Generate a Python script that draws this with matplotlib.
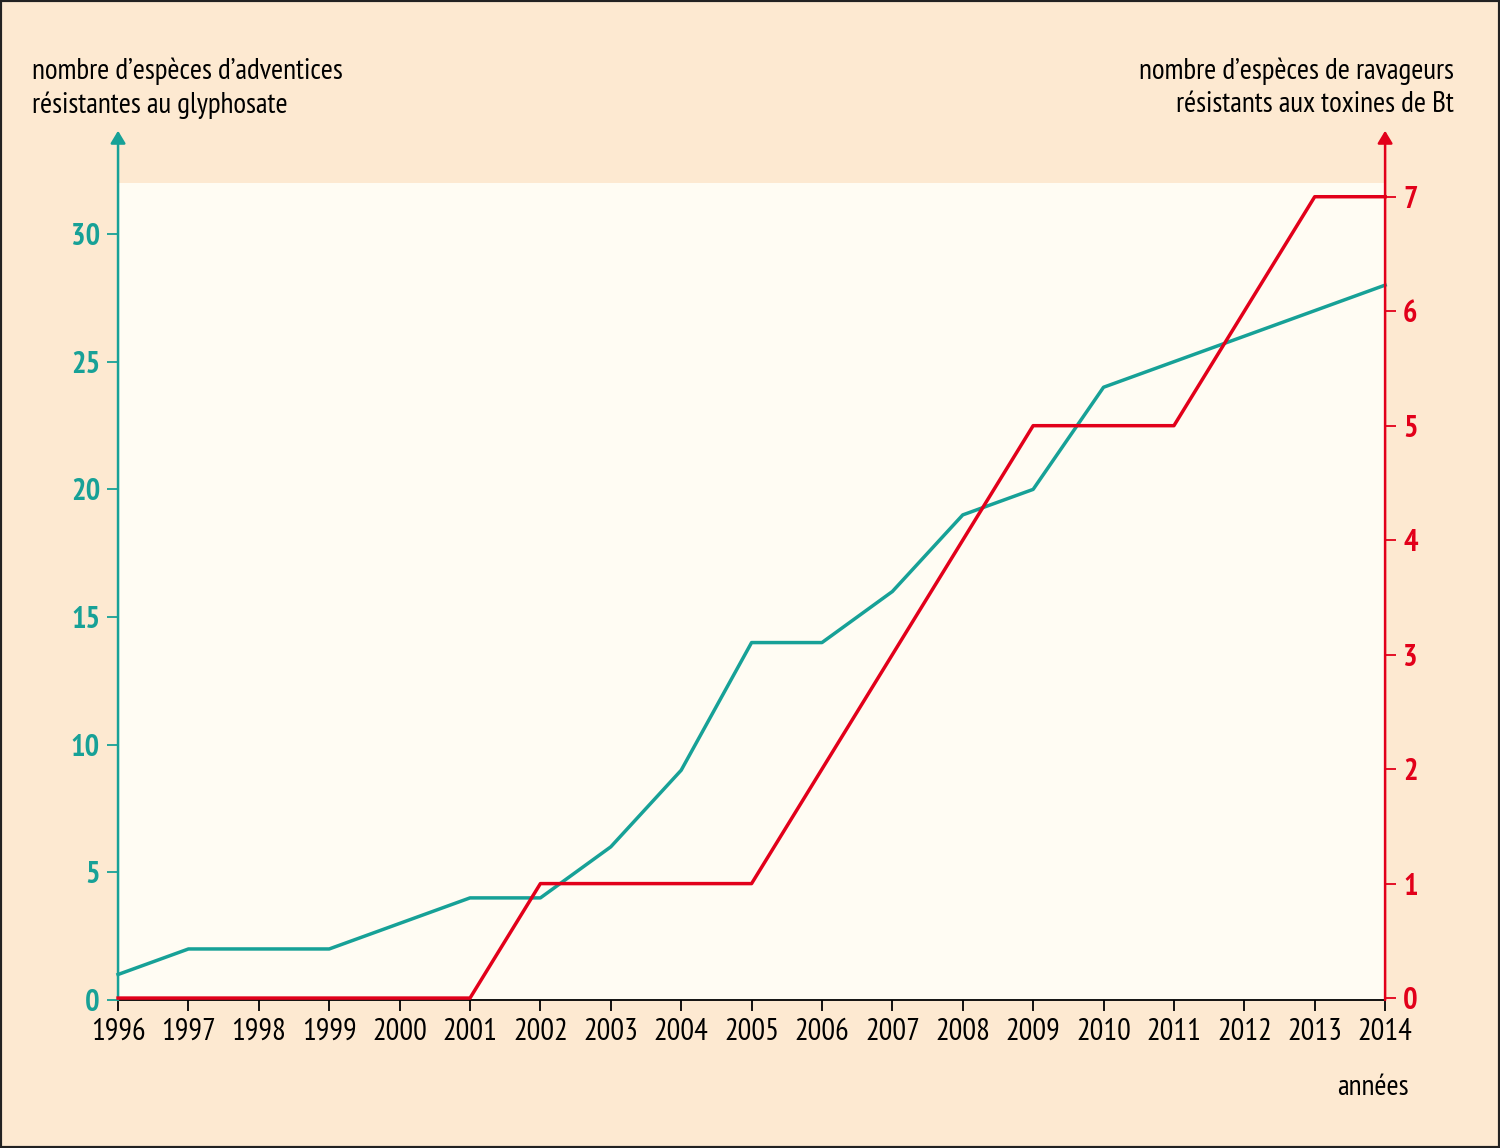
import matplotlib
matplotlib.use('Agg')
from matplotlib import pyplot as plt
from matplotlib.patches import Rectangle

plt.rcParams['font.family'] = ['PT Sans Narrow', 'DejaVu Sans']

# données
annees = list(range(1996, 2015))
adventices = [1, 2, 2, 2, 3, 4, 4, 6, 9, 14, 14, 16, 19, 20, 24, 25, 26, 27, 28]
ravageurs = [0, 0, 0, 0, 0, 0, 1, 1, 1, 1, 2, 3, 4, 5, 5, 5, 6, 7, 7]

teal = '#17a197'
rouge = '#e2001a'
fond = '#fde9d1'
fond_int = '#fffcf3'

fig = plt.figure(figsize=(15, 11.48), dpi=100, facecolor=fond)
ax = fig.add_axes([0.0787, 0.1289, 0.8447, 0.7117])
ax.set_facecolor(fond_int)
ax2 = ax.twinx()

ax.plot(annees, adventices, c=teal, lw=2.5, clip_on=False, zorder=3)
ax2.plot(annees, ravageurs, c=rouge, lw=2.5, clip_on=False, zorder=3)

ax.set_xlim(1996, 2014)
ax.set_ylim(0, 32)
ax2.set_ylim(-0.017, 7.12)

for s in ['top', 'left', 'right']:
    ax.spines[s].set_visible(False)
    ax2.spines[s].set_visible(False)
ax.spines['bottom'].set_linewidth(1.3)
ax2.spines['bottom'].set_visible(False)

# axes fléchés
ax.annotate('', xy=(0, 1.064), xytext=(0, 0), xycoords='axes fraction',
            arrowprops=dict(arrowstyle='-|>,head_length=0.75,head_width=0.45',
                            color=teal, lw=1.8, shrinkA=0, shrinkB=0))
ax.annotate('', xy=(1, 1.064), xytext=(1, 0), xycoords='axes fraction',
            arrowprops=dict(arrowstyle='-|>,head_length=0.75,head_width=0.45',
                            color=rouge, lw=1.8, shrinkA=0, shrinkB=0))

ax.set_xticks(annees)
ax.tick_params(axis='x', direction='out', length=8, width=1.3, color='black',
               labelsize=22, pad=5)
ax.set_yticks([0, 5, 10, 15, 20, 25, 30])
ax.tick_params(axis='y', direction='out', length=8, width=1.3, color=teal,
               labelcolor=teal, labelsize=22, pad=5)
for t in ax.get_yticklabels():
    t.set_fontweight('bold')
ax2.set_yticks(range(0, 8))
ax2.tick_params(axis='y', direction='out', length=8, width=1.3, color=rouge,
                labelcolor=rouge, labelsize=22, pad=5)
for t in ax2.get_yticklabels():
    t.set_fontweight('bold')

fig.text(0.021, 0.950, "nombre d\u2019espèces d\u2019adventices\nrésistantes au glyphosate",
         fontsize=21, va='top', ha='left', linespacing=1.3)
fig.text(0.969, 0.950, "nombre d\u2019espèces de ravageurs\nrésistants aux toxines de Bt",
         fontsize=21, va='top', ha='right', linespacing=1.3)
fig.text(0.939, 0.053, "années", fontsize=21, ha='right', va='center')

fig.patches.append(Rectangle((0, 0), 1, 1, transform=fig.transFigure, fill=False,
                             edgecolor='#222222', lw=3))

plt.savefig('out.png', dpi=100, facecolor=fond)
